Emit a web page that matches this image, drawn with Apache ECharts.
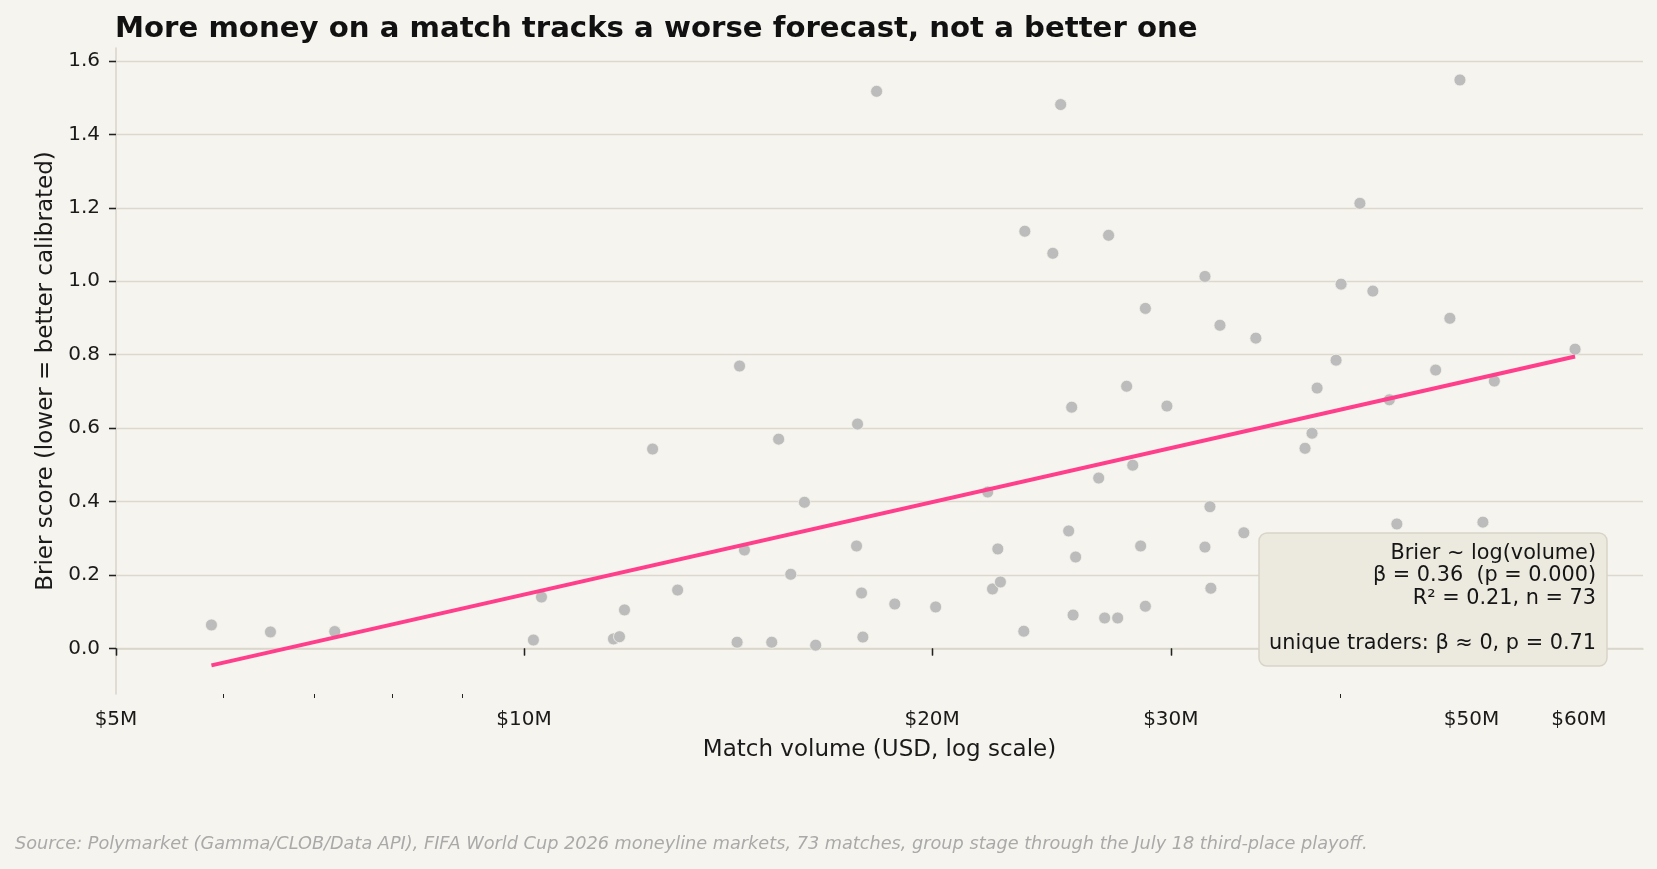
<!DOCTYPE html>
<html>
<head>
<meta charset="utf-8">
<title>Brier vs volume</title>
<script src="https://cdn.jsdelivr.net/npm/echarts@6.0.0/dist/echarts.min.js"></script>
<style>
  html, body { margin: 0; padding: 0; background: #f6f4ee; }
  #chart { width: 1657px; height: 869px; }
</style>
</head>
<body>
<div id="chart"></div>
<script>
// match volume in $M and Brier score per match
const volumeM = [5.88, 6.50, 7.25, 10.16, 10.30, 11.64, 11.76, 11.86, 12.44, 12.98,
  14.36, 14.42, 14.54, 15.23, 15.41, 15.73, 16.10, 16.41, 17.59, 17.62,
  17.74, 17.78, 18.20, 18.77, 20.12, 21.98, 22.16, 22.36, 22.46, 23.37,
  23.41, 24.55, 24.88, 25.22, 25.35, 25.41, 25.52, 26.54, 26.81, 26.99,
  27.41, 27.83, 28.12, 28.50, 28.73, 28.73, 29.80, 31.79, 31.79, 32.06,
  32.11, 32.61, 33.96, 34.66, 37.68, 38.13, 38.46, 39.72, 40.06, 41.36,
  42.28, 43.48, 44.04, 47.04, 48.19, 49.02, 50.97, 51.97, 59.61];
const brier = [0.064, 0.045, 0.046, 0.023, 0.140, 0.026, 0.032, 0.105, 0.543, 0.159,
  0.017, 0.769, 0.268, 0.017, 0.570, 0.202, 0.398, 0.009, 0.279, 0.611,
  0.151, 0.031, 1.517, 0.121, 0.113, 0.426, 0.162, 0.271, 0.181, 0.047,
  1.136, 1.076, 1.481, 0.320, 0.657, 0.091, 0.249, 0.464, 0.083, 1.125,
  0.083, 0.714, 0.499, 0.279, 0.115, 0.926, 0.660, 1.013, 0.276, 0.386,
  0.164, 0.880, 0.315, 0.845, 0.545, 0.586, 0.709, 0.785, 0.992, 1.212,
  0.973, 0.677, 0.339, 0.758, 0.899, 1.548, 0.344, 0.728, 0.815];

// OLS fit Brier ~ log(volume), end points
const fitVolumeM = [5.88, 59.61];
const fitBrier = [-0.046, 0.795];

// tick values
const xMajorTicks = [5, 10, 20, 30, 50, 60];
const xMinorTicks = [6, 7, 8, 9, 40];
const yTicks = [0, 0.2, 0.4, 0.6, 0.8, 1.0, 1.2, 1.4, 1.6];

const FONT = "DejaVu Sans";
const INK = "#1a1a1a";
const SPINE = "#d9d5ca";
const X_MIN = 5, X_MAX = 66.9;
const Y_MIN = -0.124, Y_MAX = 1.635;

// helper axis that only draws tick marks
function tickOnlyX(values, len, w) {
  return {
    type: "log", logBase: 10, min: X_MIN, max: X_MAX, position: "bottom",
    axisLine: { show: false },
    axisTick: { show: true, customValues: values, length: len, lineStyle: { color: "#222", width: w } },
    axisLabel: { show: false },
    splitLine: { show: false }
  };
}

let chart = echarts.init(document.getElementById("chart"));

let option = {
  backgroundColor: "#f6f4ee",
  animation: false,
  title: {
    text: "More money on a match tracks a worse forecast, not a better one",
    left: 110,
    top: 10,
    textStyle: { fontFamily: FONT, fontSize: 29.2, fontWeight: "bold", color: "#111" }
  },
  grid: { left: 116, right: 14, top: 48, bottom: 175 },
  xAxis: [
    {
      type: "log",
      logBase: 10,
      min: X_MIN,
      max: X_MAX,
      name: "Match volume (USD, log scale)",
      nameLocation: "middle",
      nameGap: 45,
      nameTextStyle: { fontFamily: FONT, fontSize: 23, color: INK },
      axisLine: { show: true, lineStyle: { color: SPINE, width: 1.5 } },
      axisTick: { show: true, customValues: xMajorTicks, length: 7, lineStyle: { color: "#222", width: 1.3 } },
      axisLabel: {
        customValues: xMajorTicks,
        margin: 16,
        fontFamily: FONT,
        fontSize: 20,
        color: INK,
        formatter: function (v) { return "$" + Math.round(v) + "M"; }
      },
      splitLine: { show: false }
    },
    tickOnlyX(xMajorTicks, 7, 1.3),
    tickOnlyX(xMinorTicks, 4, 1)
  ],
  yAxis: [
    {
      type: "value",
      min: Y_MIN,
      max: Y_MAX,
      name: "Brier score (lower = better calibrated)",
      nameLocation: "middle",
      nameGap: 51,
      nameTextStyle: { fontFamily: FONT, fontSize: 23, color: INK },
      axisLine: { show: true, lineStyle: { color: SPINE, width: 1.5 } },
      axisTick: { show: true, customValues: yTicks, length: 7, lineStyle: { color: "#222", width: 1.3 } },
      axisLabel: {
        customValues: yTicks,
        margin: 16,
        fontFamily: FONT,
        fontSize: 20,
        color: INK,
        formatter: function (v) { return v.toFixed(1); }
      },
      splitLine: { show: true, lineStyle: { color: "#dcd8cd", width: 1.3 } }
    },
    {
      type: "value",
      min: Y_MIN,
      max: Y_MAX,
      position: "left",
      axisLine: { show: false },
      axisTick: { show: true, customValues: yTicks, length: 7, lineStyle: { color: "#222", width: 1.3 } },
      axisLabel: { show: false },
      splitLine: { show: false }
    }
  ],
  series: [
    {
      type: "scatter",
      xAxisIndex: 0,
      yAxisIndex: 0,
      symbolSize: 12,
      itemStyle: { color: "#bcbcbc", borderColor: "#f3f1ea", borderWidth: 0.8, opacity: 1 },
      data: volumeM.map(function (v, i) { return [v, brier[i]]; }),
      z: 2
    },
    {
      type: "line",
      xAxisIndex: 0,
      yAxisIndex: 0,
      showSymbol: false,
      lineStyle: { color: "#ff3f8b", width: 4 },
      data: fitVolumeM.map(function (v, i) { return [v, fitBrier[i]]; }),
      z: 3
    }
  ],
  graphic: [
    {
      type: "rect",
      z: 100,
      shape: { x: 1259, y: 533, width: 348, height: 133, r: 8 },
      style: { fill: "#ece9df", stroke: "#d8d4c9", lineWidth: 1.5 }
    },
    {
      type: "text",
      z: 101,
      x: 1596,
      y: 542,
      style: {
        text: "Brier ~ log(volume)\nβ = 0.36  (p = 0.000)\nR² = 0.21, n = 73\n\nunique traders: β ≈ 0, p = 0.71",
        align: "right",
        verticalAlign: "top",
        lineHeight: 22.5,
        fontFamily: FONT,
        fontSize: 20.8,
        fill: "#151515"
      }
    },
    {
      type: "text",
      x: 15,
      y: 844,
      style: {
        text: "Source: Polymarket (Gamma/CLOB/Data API), FIFA World Cup 2026 moneyline markets, 73 matches, group stage through the July 18 third-place playoff.",
        verticalAlign: "middle",
        fontFamily: FONT,
        fontSize: 17.7,
        fontStyle: "italic",
        fill: "#a9a9a9"
      }
    }
  ]
};

chart.setOption(option);
</script>
</body>
</html>
